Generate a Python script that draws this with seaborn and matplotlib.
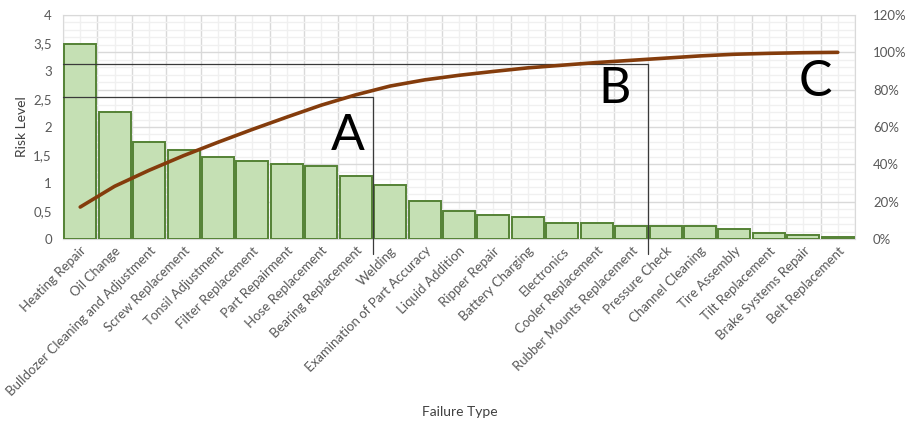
import numpy as np
import pandas as pd
import matplotlib
matplotlib.use("Agg")
import matplotlib.pyplot as plt
from matplotlib.ticker import FuncFormatter, MultipleLocator, FixedLocator
import seaborn as sns

failure_types = [
    "Heating Repair", "Oil Change", "Bulldozer Cleaning and Adjustment",
    "Screw Replacement", "Tonsil Adjustment", "Filter Replacement",
    "Part Repairment", "Hose Replacement", "Bearing Replacement", "Welding",
    "Examination of Part Accuracy", "Liquid Addition", "Ripper Repair",
    "Battery Charging", "Electronics", "Cooler Replacement",
    "Rubber Mounts Replacement", "Pressure Check", "Channel Cleaning",
    "Tire Assembly", "Tilt Replacement", "Brake Systems Repair",
    "Belt Replacement",
]
risk_level = [3.48, 2.26, 1.74, 1.59, 1.46, 1.40, 1.34, 1.30, 1.12, 0.96,
              0.67, 0.50, 0.42, 0.39, 0.29, 0.29, 0.24, 0.24, 0.24, 0.18,
              0.10, 0.07, 0.04]
left_ticks = [0, 0.5, 1, 1.5, 2, 2.5, 3, 3.5, 4]
right_ticks = [0, 20, 40, 60, 80, 100, 120]

# ABC class limits: (threshold on risk axis, last category index in class)
class_a = (2.53, 8)
class_b = (3.13, 16)
class_labels = ["A", "B", "C"]

df = pd.DataFrame({"failure": failure_types, "risk": risk_level})
df["pos"] = np.arange(len(df))
df["cum_pct"] = df["risk"].cumsum() / df["risk"].sum() * 100

sns.set_style("white")
plt.rcParams["font.family"] = ["Lato", "DejaVu Sans"]

W, H = 912, 423
fig = plt.figure(figsize=(W / 100, H / 100), dpi=100)
rect = [63 / W, 1 - 239 / H, (855 - 63) / W, (239 - 15) / H]
n = len(df)

# background grid on its own axes so bars and line sit above it
axg = fig.add_axes(rect, zorder=0)
axg.set_xlim(-0.5, n - 0.5)
axg.set_ylim(0, 120)
axg.yaxis.set_major_locator(MultipleLocator(20))
axg.yaxis.set_minor_locator(MultipleLocator(4))
axg.xaxis.set_major_locator(FixedLocator(np.arange(n + 1) - 0.5))
axg.xaxis.set_minor_locator(FixedLocator(np.arange(n)))
axg.grid(which="major", color="#d9d9d9", lw=1.0)
axg.grid(which="minor", color="#f0f0f0", lw=1.0)
axg.tick_params(which="both", length=0, labelleft=False, labelbottom=False)
for s in axg.spines.values():
    s.set_color("#d9d9d9")

ax = fig.add_axes(rect, zorder=1)
ax.patch.set_visible(False)
sns.barplot(data=df, x="pos", y="risk", ax=ax, color="#c5e0b4",
            edgecolor="#548235", linewidth=1.4, width=0.93, saturation=1,
            native_scale=True)
ax.set_xlim(-0.5, n - 0.5)
ax.set_ylim(0, 4)
ax.set_yticks(left_ticks)
ax.yaxis.set_major_formatter(FuncFormatter(lambda v, p: f"{v:g}".replace(".", ",")))
ax.set_xticks(df["pos"])
ax.set_xticklabels(df["failure"], rotation=45, ha="right", rotation_mode="anchor")
ax.tick_params(axis="both", length=0, labelsize=9.5, labelcolor="#595959")
ax.tick_params(axis="x", pad=4)
ax.tick_params(axis="y", pad=8)
for s in ax.spines.values():
    s.set_visible(False)
ax.set_ylabel("Risk Level", fontsize=10, color="#404040", labelpad=4)
ax.set_xlabel("")
fig.text(460 / W, 1 - 412 / H, "Failure Type", ha="center", va="center",
         fontsize=10, color="#404040")

# ABC class boundaries
for thr, last in (class_a, class_b):
    edge = last + 0.5
    ax.plot([-0.5, edge], [thr, thr], color="#3a3a3a", lw=0.9, clip_on=False, zorder=3)
    ax.plot([edge, edge], [thr, -0.27], color="#3a3a3a", lw=0.9, clip_on=False, zorder=3)

ax.text(7.78, 1.84, class_labels[0], fontsize=36, ha="center", va="center", color="black")
ax.text(15.53, 2.67, class_labels[1], fontsize=36, ha="center", va="center", color="black")
ax.text(21.34, 2.81, class_labels[2], fontsize=36, ha="center", va="center", color="black")

ax2 = fig.add_axes(rect, zorder=2, sharex=ax)
ax2.patch.set_visible(False)
sns.lineplot(data=df, x="pos", y="cum_pct", ax=ax2, color="#843c0c", lw=2.6)
ax2.set_ylim(0, 120)
ax2.yaxis.tick_right()
ax2.set_yticks(right_ticks)
ax2.yaxis.set_major_formatter(FuncFormatter(lambda v, p: f"{v:.0f}%"))
ax2.tick_params(axis="y", length=0, labelsize=9.5, labelcolor="#595959", pad=13)
ax2.tick_params(axis="x", length=0, labelbottom=False)
ax2.set_xlabel("")
ax2.set_ylabel("")
for s in ax2.spines.values():
    s.set_visible(False)

fig.savefig("out.png", dpi=100)
